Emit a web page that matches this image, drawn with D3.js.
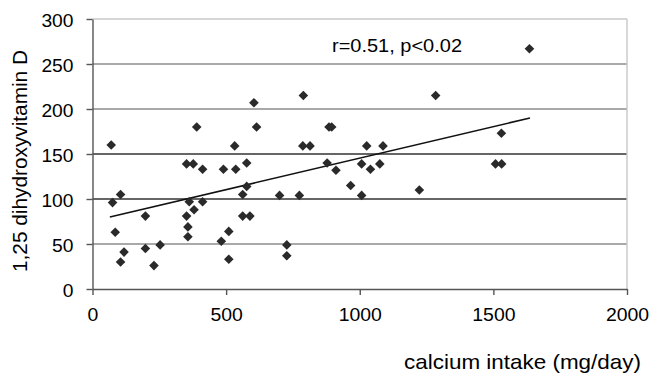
<!DOCTYPE html>
<html>
<head>
<meta charset="utf-8">
<script src="https://cdn.jsdelivr.net/npm/d3@7"></script>
<style>
  html, body { margin: 0; padding: 0; background: #fff; }
  svg { display: block; font-family: "Liberation Sans", Arial, sans-serif; }
</style>
</head>
<body>
<div id="chart"></div>
<script>
// calcium intake (mg/day)
const calciumIntake = [
  70, 75, 85, 105, 105, 118, 198, 198, 230, 253,
  352, 377, 390, 412, 352, 357, 357, 362, 380, 412,
  490, 482, 510, 510, 532, 536, 577, 562, 577, 562,
  589, 604, 614, 700, 727, 727, 774, 789, 787, 814,
  885, 895, 878, 911, 966, 1007, 1007, 1026, 1040, 1075,
  1087, 1223, 1284, 1508, 1531, 1530, 1635
];
// 1,25 dihydroxyvitamin D
const vitaminD = [
  160, 96, 63, 105, 30, 41, 81, 45, 26, 49,
  139, 139, 180, 133, 81, 69, 58, 97, 88, 97,
  133, 53, 64, 33, 159, 133, 140, 105, 114, 81,
  81, 207, 180, 104, 49, 37, 104, 215, 159, 159,
  180, 180, 140, 132, 115, 139, 104, 159, 133, 139,
  159, 110, 215, 139, 139, 173, 267
];
// regression line end points
const trendX = [65, 1637];
const trendY = [80, 190];

const xTicks = [0, 500, 1000, 1500, 2000];
const yTicks = [0, 50, 100, 150, 200, 250, 300];
const darkGrid = [100, 150];

const W = 651, H = 375;
const svg = d3.select("#chart").append("svg")
  .attr("width", W)
  .attr("height", H);

const x = d3.scaleLinear().domain([0, 2000]).range([92.5, 627]);
const y = d3.scaleLinear().domain([0, 300]).range([289, 19]);

// gridlines
svg.append("g")
  .selectAll("line")
  .data(yTicks.filter(d => d > 0))
  .join("line")
  .attr("x1", x(0))
  .attr("x2", x(2000))
  .attr("y1", d => y(d))
  .attr("y2", d => y(d))
  .attr("stroke", d => d === 300 ? "#c8c8c8" : (darkGrid.includes(d) ? "#333" : "#8c8c8c"))
  .attr("stroke-width", 1.4);

// right border
svg.append("line")
  .attr("x1", x(2000)).attr("x2", x(2000))
  .attr("y1", y(300)).attr("y2", y(0))
  .attr("stroke", "#c8c8c8")
  .attr("stroke-width", 1.4);

// y axis
const yAxis = svg.append("g")
  .attr("transform", `translate(${x(0)},0)`)
  .call(d3.axisLeft(y).tickValues(yTicks).tickFormat(d3.format("d")).tickSize(6).tickPadding(13).tickSizeOuter(0));
yAxis.select(".domain").attr("stroke", "#555").attr("stroke-width", 1.4);
yAxis.selectAll(".tick line").attr("stroke", "#555").attr("stroke-width", 1.4);
yAxis.selectAll(".tick text")
  .attr("fill", "#000")
  .attr("dy", "0.42em")
  .style("font-size", "17.5px")
  .attr("textLength", d => String(d).length * 10.7)
  .attr("lengthAdjust", "spacingAndGlyphs");

// x axis
const xAxis = svg.append("g")
  .attr("transform", `translate(0,${y(0)})`)
  .call(d3.axisBottom(x).tickValues(xTicks).tickFormat(d3.format("d")).tickSize(6).tickPadding(14).tickSizeOuter(0));
xAxis.select(".domain").attr("stroke", "#555").attr("stroke-width", 1.4);
xAxis.selectAll(".tick line").attr("stroke", "#555").attr("stroke-width", 1.4);
xAxis.selectAll(".tick text")
  .attr("fill", "#000")
  .style("font-size", "17.5px")
  .attr("textLength", d => String(d).length * 10.8)
  .attr("lengthAdjust", "spacingAndGlyphs");

// trend line
svg.append("line")
  .attr("x1", x(trendX[0])).attr("y1", y(trendY[0]))
  .attr("x2", x(trendX[1])).attr("y2", y(trendY[1]))
  .attr("stroke", "#111")
  .attr("stroke-width", 1.6);

// points
const points = calciumIntake.map((c, i) => ({ c, v: vitaminD[i] }));
svg.append("g")
  .selectAll("path")
  .data(points)
  .join("path")
  .attr("transform", d => `translate(${x(d.c)},${y(d.v)})`)
  .attr("d", "M0,-4.8L4.8,0L0,4.8L-4.8,0Z")
  .attr("fill", "#2a2a2a");

// annotation
svg.append("text")
  .attr("x", 332)
  .attr("y", 52)
  .attr("fill", "#000")
  .style("font-size", "18.5px")
  .attr("textLength", 130)
  .attr("lengthAdjust", "spacingAndGlyphs")
  .text("r=0.51, p<0.02");

// axis titles
svg.append("text")
  .attr("x", 404)
  .attr("y", 369)
  .attr("fill", "#000")
  .style("font-size", "21px")
  .attr("textLength", 237)
  .attr("lengthAdjust", "spacingAndGlyphs")
  .text("calcium intake (mg/day)");

svg.append("text")
  .attr("transform", "translate(27,161) rotate(-90)")
  .attr("text-anchor", "middle")
  .attr("fill", "#000")
  .style("font-size", "20px")
  .attr("textLength", 222)
  .attr("lengthAdjust", "spacingAndGlyphs")
  .text("1,25 dihydroxyvitamin D");
</script>
</body>
</html>
